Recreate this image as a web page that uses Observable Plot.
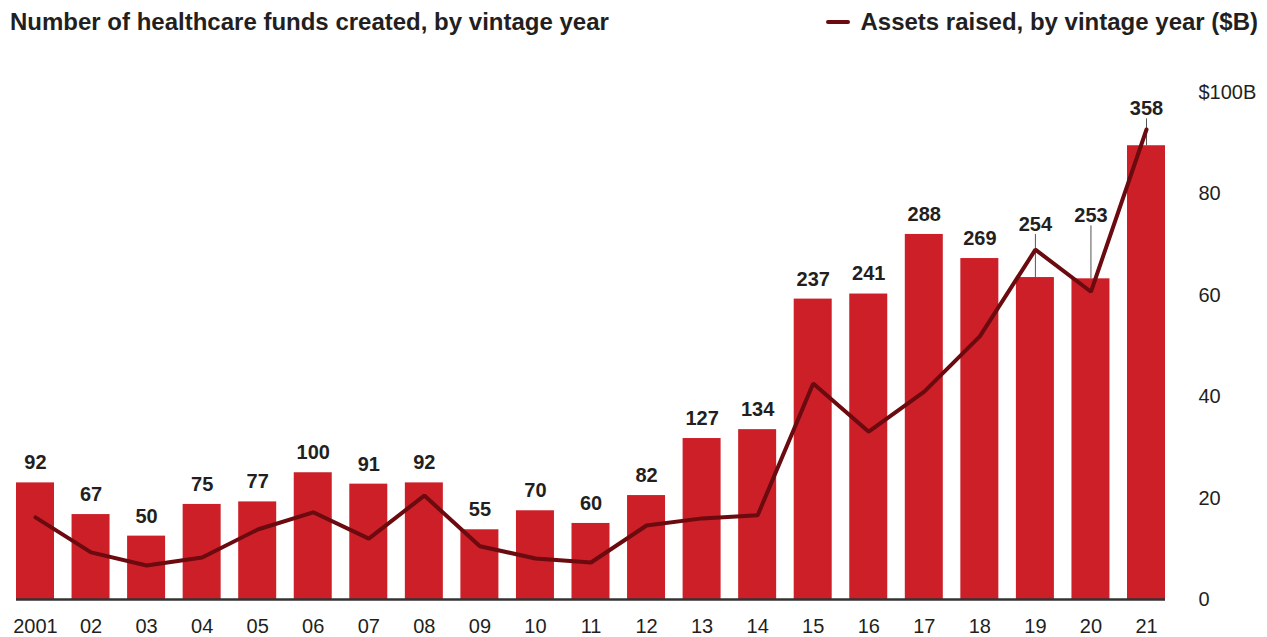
<!DOCTYPE html>
<html>
<head>
<meta charset="utf-8">
<script src="https://cdn.jsdelivr.net/npm/d3@7"></script>
<script src="https://cdn.jsdelivr.net/npm/@observablehq/plot@0.6"></script>
<style>
  html, body { margin: 0; padding: 0; background: #fff; }
  body { width: 1267px; height: 637px; overflow: hidden; font-family: "Liberation Sans", Arial, sans-serif; color: #231f20; }
  #header { position: relative; height: 44px; }
  #title { position: absolute; left: 10px; top: 8px; font-size: 24px; font-weight: bold; white-space: nowrap; }
  #legend { position: absolute; right: 9px; top: 8px; font-size: 24px; font-weight: bold; white-space: nowrap; display: flex; align-items: center; }
  #legend .swatch { display: inline-block; width: 24px; height: 4px; background: #6b0a0f; margin-right: 10px; border-radius: 2px; }
</style>
</head>
<body>
<div id="header">
  <div id="title">Number of healthcare funds created, by vintage year</div>
  <div id="legend"><span class="swatch"></span>Assets raised, by vintage year ($B)</div>
</div>
<div id="chart"></div>
<script>
const years = ["2001","02","03","04","05","06","07","08","09","10","11","12","13","14","15","16","17","18","19","20","21"];
const funds = [92,67,50,75,77,100,91,92,55,70,60,82,127,134,237,241,288,269,254,253,358];
const assets = [16.2,9.3,6.7,8.3,13.8,17.2,12.0,20.5,10.5,8.1,7.3,14.6,16.0,16.6,42.6,33.1,41.0,51.9,69.0,60.7,92.7];
const yTicks = [0,20,40,60,80,100];

// funds share the $B axis at 4 funds per $1B
const fundsPerBillion = 4;
const data = years.map((year, i) => ({year, funds: funds[i], assets: assets[i], fundsScaled: funds[i] / fundsPerBillion}));

// callout labels lifted above the line (label level in $B units)
const callouts = {"19": 74.0, "20": 75.7, "21": 96.8};
const calloutData = data.filter(d => callouts[d.year] !== undefined).map(d => ({...d, level: callouts[d.year]}));
const plainData = data.filter(d => callouts[d.year] === undefined);

const ink = "#231f20";
const chart = Plot.plot({
  width: 1267,
  height: 593,
  marginLeft: 16,
  marginRight: 102,
  marginTop: 48,
  marginBottom: 38,
  style: {fontFamily: "'Liberation Sans', Arial, sans-serif", fontSize: "20px", color: ink, background: "#fff"},
  x: {domain: years, paddingInner: 0.316, paddingOuter: 0, round: false, label: null},
  y: {domain: [0, 100], label: null},
  marks: [
    Plot.barY(data, {x: "year", y: "fundsScaled", fill: "#cc1f28"}),
    Plot.ruleX(calloutData, {x: "year", y1: "fundsScaled", y2: d => d.level - 2, stroke: "#555", strokeWidth: 1}),
    Plot.ruleY([0], {stroke: "#333", strokeWidth: 2.5}),
    Plot.line(data, {x: "year", y: "assets", stroke: "#6b0a0f", strokeWidth: 4, strokeLinejoin: "miter"}),
    Plot.text(plainData, {x: "year", y: "fundsScaled", text: d => String(d.funds), dy: -20, fontWeight: "bold", fontSize: 20, fill: ink}),
    Plot.text(calloutData, {x: "year", y: "level", text: d => String(d.funds), fontWeight: "bold", fontSize: 20, fill: ink}),
    Plot.axisX({tickSize: 0, tickPadding: 19, fontSize: 20, fill: ink}),
    Plot.axisY({anchor: "right", ticks: yTicks, tickSize: 0, tickPadding: 33, textAnchor: "start", fontSize: 20, fill: ink,
      tickFormat: d => d === 100 ? "$100B" : String(d)})
  ]
});
document.getElementById("chart").appendChild(chart);
</script>
</body>
</html>
